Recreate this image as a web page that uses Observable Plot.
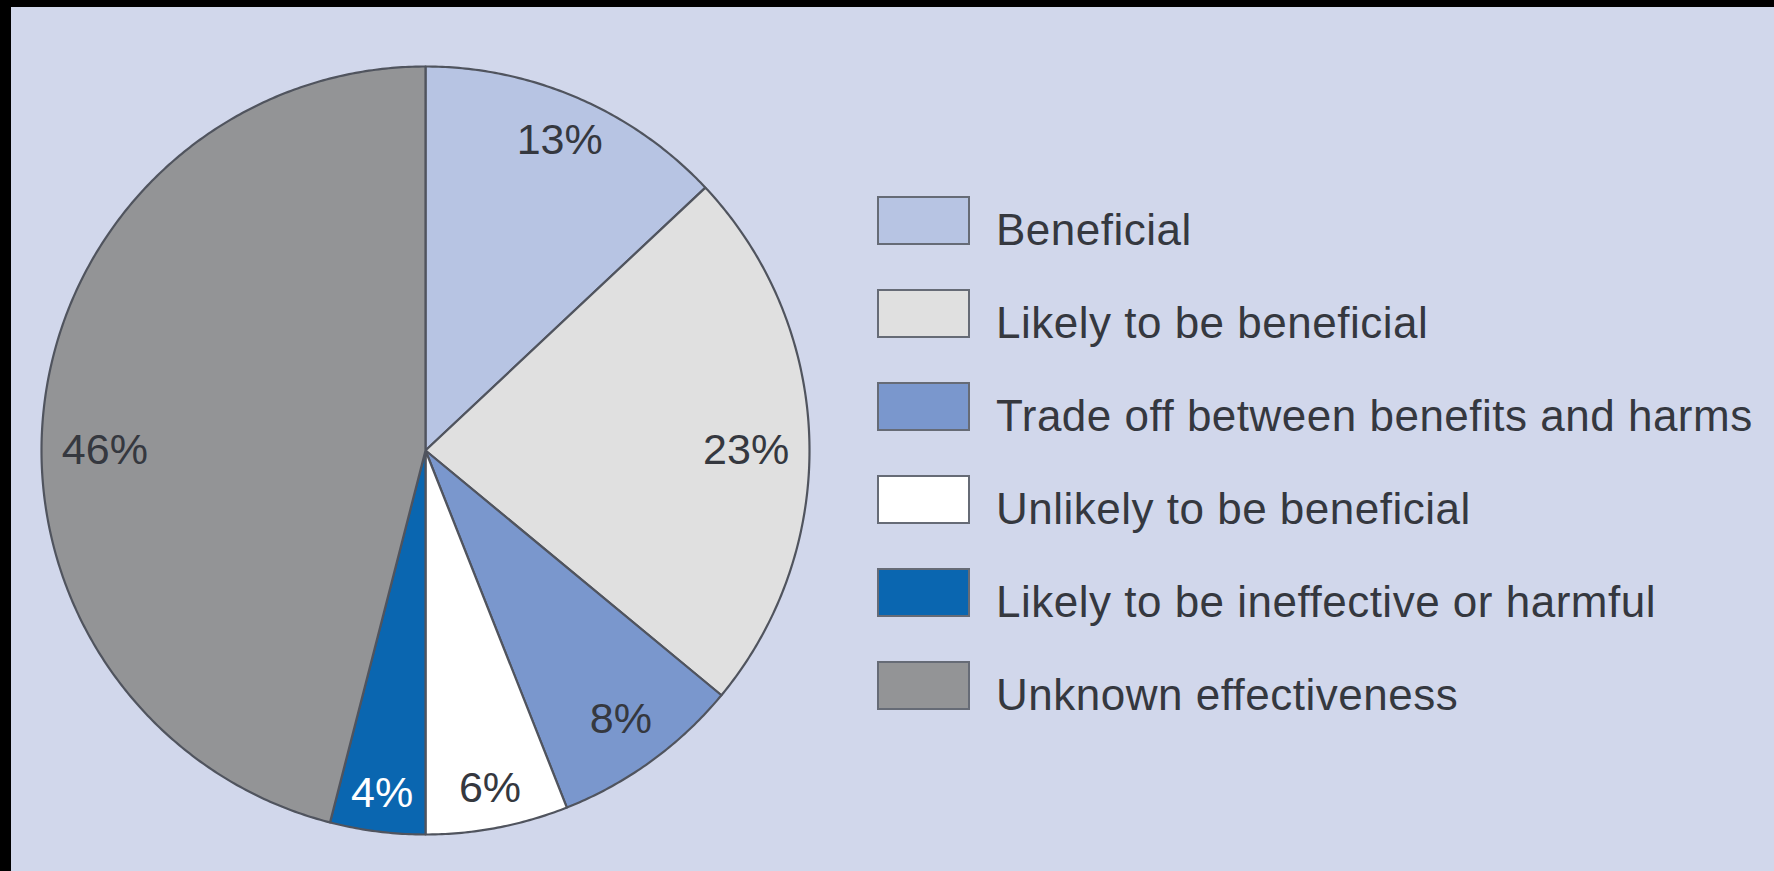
<!DOCTYPE html>
<html>
<head>
<meta charset="utf-8">
<script src="https://cdn.jsdelivr.net/npm/d3@7"></script>
<script src="https://cdn.jsdelivr.net/npm/@observablehq/plot@0.6"></script>
<style>
  html, body { margin: 0; padding: 0; background: #000; width: 1774px; height: 871px; overflow: hidden; }
  #panel { position: absolute; left: 11px; top: 7px; width: 1763px; height: 864px; background: #d1d7eb; }
  #chart { position: absolute; left: 0; top: 0; }
  #legend { position: absolute; left: 866px; top: 189px; font-family: "Liberation Sans", Arial, Helvetica, sans-serif; }
  .row { position: relative; height: 93px; width: 880px; }
  .sw { position: absolute; left: 0; top: 0; width: 93px; height: 49px; box-sizing: border-box; border: 2px solid #666b76; }
  .lab { position: absolute; left: 119px; top: 12px; font-size: 44px; line-height: 44px; letter-spacing: 0.5px; color: #35383f; white-space: nowrap; }
</style>
</head>
<body>
<div id="panel">
  <div id="chart"></div>
  <div id="legend"></div>
</div>
<script>
const categories = [
  "Beneficial",
  "Likely to be beneficial",
  "Trade off between benefits and harms",
  "Unlikely to be beneficial",
  "Likely to be ineffective or harmful",
  "Unknown effectiveness"
];
const shares = [13, 23, 8, 6, 4, 46];
const percentLabels = ["13%", "23%", "8%", "6%", "4%", "46%"];
const colors = ["#b7c4e3", "#e0e0e0", "#7a97cd", "#ffffff", "#0a66b0", "#939496"];
const labelColors = ["#35383f", "#35383f", "#35383f", "#35383f", "#ffffff", "#35383f"];

// Pie layout from the data
const arcs = d3.pie().sort(null).value(d => d)(shares);

// Outline points of each slice (center -> arc -> center), in unit coordinates
const slicePts = [];
arcs.forEach((a, i) => {
  const cat = categories[i];
  slicePts.push({cat, x: 0, y: 0});
  const n = Math.max(2, Math.ceil((a.endAngle - a.startAngle) / (Math.PI / 360)));
  for (let k = 0; k <= n; k++) {
    const t = a.startAngle + (a.endAngle - a.startAngle) * k / n;
    slicePts.push({cat, x: Math.sin(t), y: Math.cos(t)});
  }
  slicePts.push({cat, x: 0, y: 0});
});

// Label positions: mid-angle (snapped to horizontal when the slice spans it)
const labelPts = arcs.map((a, i) => {
  let t = (a.startAngle + a.endAngle) / 2;
  for (const h of [Math.PI / 2, 3 * Math.PI / 2]) {
    if (a.startAngle <= h && a.endAngle >= h) t = h;
  }
  const r = 1 - 0.09 - 0.075 * Math.abs(Math.sin(t));
  return {cat: categories[i], text: percentLabels[i], color: labelColors[i], x: r * Math.sin(t), y: r * Math.cos(t)};
});

const plot = Plot.plot({
  width: 840,
  height: 864,
  margin: 0,
  x: {domain: [-1, 1], range: [30, 798], axis: null},
  y: {domain: [-1, 1], range: [827, 59], axis: null},
  color: {domain: categories, range: colors},
  style: {background: "transparent", overflow: "visible"},
  marks: [
    Plot.line(slicePts, {x: "x", y: "y", z: "cat", fill: "cat", stroke: "#50545e", strokeWidth: 2.2, strokeLinejoin: "round", curve: "linear"}),
    Plot.text(labelPts, {x: "x", y: "y", text: "text", fill: "color", fontSize: 43, fontFamily: "Liberation Sans, Arial, Helvetica, sans-serif", style: "letter-spacing: 0.5px"})
  ]
});
document.getElementById("chart").appendChild(plot);

// Legend
const legend = document.getElementById("legend");
categories.forEach((c, i) => {
  const row = document.createElement("div");
  row.className = "row";
  const sw = document.createElement("div");
  sw.className = "sw";
  sw.style.background = colors[i];
  const lab = document.createElement("div");
  lab.className = "lab";
  lab.textContent = c;
  row.appendChild(sw);
  row.appendChild(lab);
  legend.appendChild(row);
});
</script>
</body>
</html>
